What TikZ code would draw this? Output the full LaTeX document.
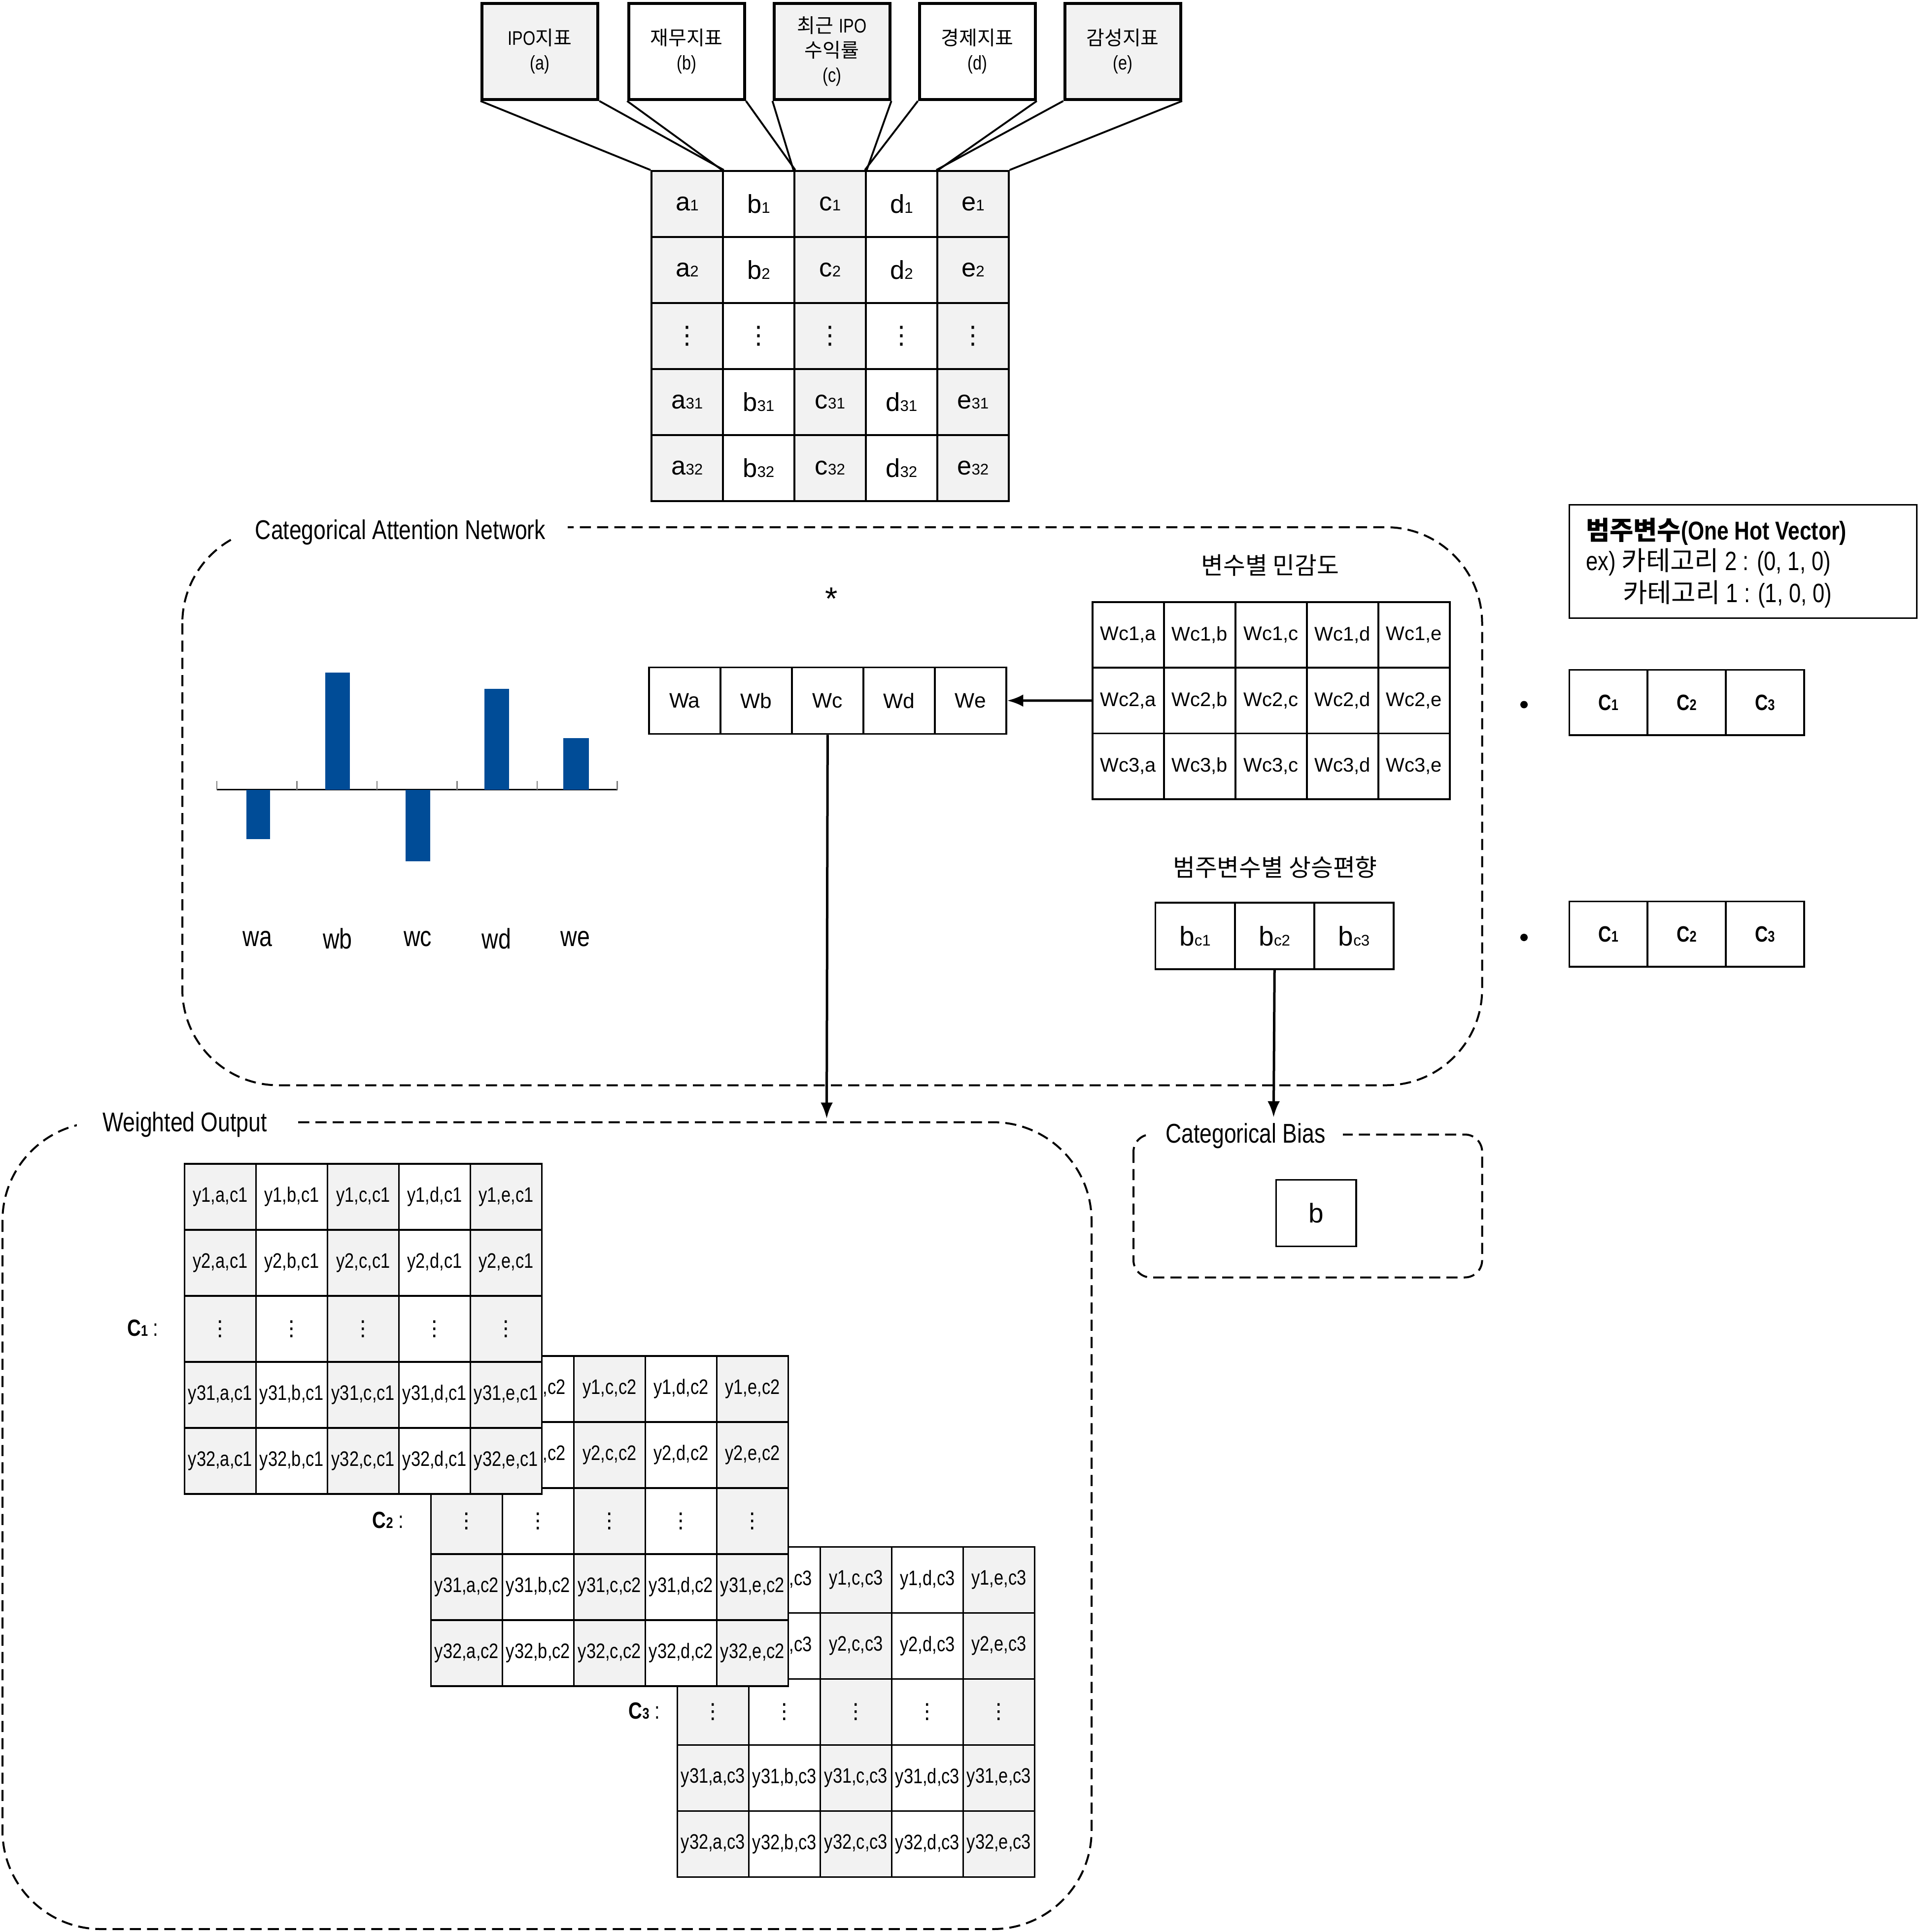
\documentclass[tikz,border=0pt]{standalone}
\usepackage{fontspec}
\setmainfont{Liberation Sans}
\newfontfamily\narrowfont[FakeStretch=0.81]{Liberation Sans}
\newfontfamily\krfont{Noto Sans CJK KR}
\newfontfamily\symfont{DejaVu Sans}
\usetikzlibrary{arrows.meta,positioning}
\definecolor{cellgray}{HTML}{F2F2F2}
\definecolor{barblue}{HTML}{004C97}
\newcommand\lo[1]{{\fontsize{12.5}{13}\selectfont #1}}
\newcommand\vdts[1]{{\symfont\fontsize{#1}{#1}\selectfont ⋮}}
\tikzset{
  cell/.style={draw, line width=1.5pt, inner sep=0pt, anchor=north west,
    minimum width=58pt, minimum height=53.6pt, fill=white},
  srcbox/.style={draw, line width=2.5pt, inner sep=0pt, anchor=north west,
    minimum width=94pt, minimum height=78pt, align=center,
    font=\fontsize{16}{20}\selectfont},
  groupbox/.style={draw, dash pattern=on 9pt off 5pt, line width=1.6pt},
  boxtitle/.style={fill=white, inner ysep=3pt, font=\narrowfont\fontsize{22}{26}\selectfont},
  arr/.style={line width=2pt, -{Latex[length=13pt,width=10pt]}},
}

\begin{document}
\begin{tikzpicture}[x=1pt, y=-1pt]
  \useasboundingbox (0,0) rectangle (1556.4,1568.4);

  % Input indicators
  \node[srcbox, fill=cellgray] (srca) at (390,1.5) {{\narrowfont IPO}{\krfont 지표}\\{\narrowfont (a)}};
  \node[srcbox, fill=white] (srcb) at (509,1.5) {{\krfont 재무지표}\\{\narrowfont (b)}};
  \node[srcbox, fill=cellgray] (srcc) at (627,1.5) {{\krfont 최근} {\narrowfont IPO}\\{\krfont 수익률}\\{\narrowfont (c)}};
  \node[srcbox, fill=white] (srcd) at (745,1.5) {{\krfont 경제지표}\\{\narrowfont (d)}};
  \node[srcbox, fill=cellgray] (srce) at (863,1.5) {{\krfont 감성지표}\\{\narrowfont (e)}};

  % Input table
  \foreach \rl [count=\i from 0] in {1,2,0,31,32} {
    \foreach \cl [count=\j from 0] in {a,b,c,d,e} {
      \pgfmathtruncatemacro\odd{mod(\j,2)}
      \ifnum\odd=0 \def\fc{cellgray}\else\def\fc{white}\fi
      \node[cell, fill=\fc, font=\fontsize{21}{24}\selectfont] (in-\i-\j) at ({528+58*\j},{138+53.6*\i})
        {\ifnum\i=2 \vdts{20}\else\cl\lo{\rl}\fi};
    }
  }
  \foreach \s [count=\j from 0] in {a,b,c,d,e}
    \draw[line width=1.5pt] (src\s.south west) -- (in-0-\j.north west)
      (src\s.south east) -- (in-0-\j.north east);

  % Categorical attention network
  \draw[groupbox, rounded corners=78pt] (148,428) rectangle (1203,881);
  \node[boxtitle, inner xsep=18pt] (cantitle) at (325,432) {Categorical Attention Network};

  \draw[line width=1pt] (176,641) -- (501,641);
  \foreach \x in {176,241,306,371,436,501}
    \draw[gray, line width=0.9pt] (\x,641) -- (\x,634);
  \fill[barblue] (200,641) rectangle (219,681);
  \fill[barblue] (264,641) rectangle (284,546);
  \fill[barblue] (329,641) rectangle (349,699);
  \fill[barblue] (393,641) rectangle (413,559);
  \fill[barblue] (457,641) rectangle (478,599);
  \foreach \n/\x in {a/209,b/274,c/339,d/403,e/467}
    \node[font=\narrowfont\fontsize{23}{26}\selectfont] (lbl\n) at (\x,762) {w\n};

  \node[font=\fontsize{26}{28}\selectfont] (star) at (675,486) {*};
  \foreach \n [count=\j from 0] in {a,b,c,d,e}
    \node[cell, minimum height=54pt, font=\fontsize{17}{19}\selectfont] (w-\j) at ({526+58*\j},541) {W\n};

  \node[font=\krfont\fontsize{19.5}{22}\selectfont] (wctitle) at (1031,459) {변수별 민감도};
  \foreach \r in {1,2,3}
    \foreach \n [count=\j from 0] in {a,b,c,d,e}
      \node[cell, minimum height=53.3pt, font=\fontsize{16}{18}\selectfont] (wc-\r-\j) at ({886+58*\j},{488+53.3*(\r-1)}) {Wc\r,\n};
  \draw[arr] (wc-2-0.west) -- (w-4.east);

  \node[font=\krfont\fontsize{19.5}{22}\selectfont] (bctitle) at (1035,704) {범주변수별 상승편향};
  \foreach \k [count=\j from 0] in {1,2,3}
    \node[cell, minimum width=64.5pt, minimum height=54pt, font=\fontsize{22}{24}\selectfont] (bc-\k) at ({937+64.5*\j},732) {b\lo{c\k}};

  % One hot vector
  \node[draw, line width=1.5pt, anchor=north west, minimum width=282pt, minimum height=92pt, inner sep=0pt] (legend) at (1273,409) {};
  \node[anchor=base west, inner sep=0pt, font=\fontsize{21}{25}\selectfont] (leg1) at (1287,438)
    {{\krfont\bfseries 범주변수}{\narrowfont\bfseries (One Hot Vector)}};
  \node[anchor=base west, inner sep=0pt, font=\fontsize{21.5}{25}\selectfont] (leg2) at (1287,463)
    {{\narrowfont ex) }{\krfont 카테고리}{\narrowfont{} 2 : (0, 1, 0)}};
  \node[anchor=base west, inner sep=0pt, font=\fontsize{21.5}{25}\selectfont] (leg3) at (1317,489)
    {{\krfont 카테고리}{\narrowfont{} 1 : (1, 0, 0)}};

  \node[circle, fill, inner sep=0pt, minimum size=6pt] (dot1) at (1237,572) {};
  \node[circle, fill, inner sep=0pt, minimum size=6pt] (dot2) at (1237,761) {};
  \foreach \k [count=\j from 0] in {1,2,3} {
    \node[cell, minimum width=63.5pt, minimum height=53pt, font=\narrowfont\bfseries\fontsize{18}{20}\selectfont] (ca-\k) at ({1273+63.5*\j},543) {C\lo{\k}};
    \node[cell, minimum width=63.5pt, minimum height=53pt, font=\narrowfont\bfseries\fontsize{18}{20}\selectfont] (cb-\k) at ({1273+63.5*\j},731) {C\lo{\k}};
  }

  % Categorical bias
  \draw[groupbox, rounded corners=14pt] (920,921) rectangle (1203,1037);
  \node[boxtitle, inner xsep=14pt] (cbtitle) at (1011,922) {Categorical Bias};
  \node[cell, minimum width=65pt, minimum height=54pt, font=\fontsize{22}{24}\selectfont] (bias) at (1035,957) {b};
  \coordinate (biastop) at (1033.75,907);
  \draw[arr] (bc-2.south) -- (biastop);

  % Weighted output
  \draw[groupbox, rounded corners=80pt] (2,911) rectangle (886,1566);
  \node[boxtitle, inner xsep=21pt] (wotitle) at (150,913) {Weighted Output};
  \coordinate (wotop) at (671,908);
  \draw[arr] (w-2.south) -- (wotop);

  \foreach \g/\gx/\gy/\lx in {3/549/1255/523, 2/349/1100/315, 1/149/944/116} {
    \foreach \rl [count=\i from 0] in {1,2,0,31,32} {
      \foreach \cl [count=\j from 0] in {a,b,c,d,e} {
        \pgfmathtruncatemacro\odd{mod(\j,2)}
        \ifnum\odd=0 \def\fc{cellgray}\else\def\fc{white}\fi
        \node[cell, fill=\fc, font=\narrowfont\fontsize{17}{19}\selectfont] (y\g-\i-\j) at ({\gx+58*\j},{\gy+53.6*\i})
          {\ifnum\i=2 \vdts{17}\else y\rl,\cl,c\g\fi};
      }
    }
    \node[font=\narrowfont\bfseries\fontsize{19}{21}\selectfont] (glbl\g) at ({\lx},{\gy+134}) {C\lo{\g}~{\mdseries:}};
  }
\end{tikzpicture}
\end{document}
